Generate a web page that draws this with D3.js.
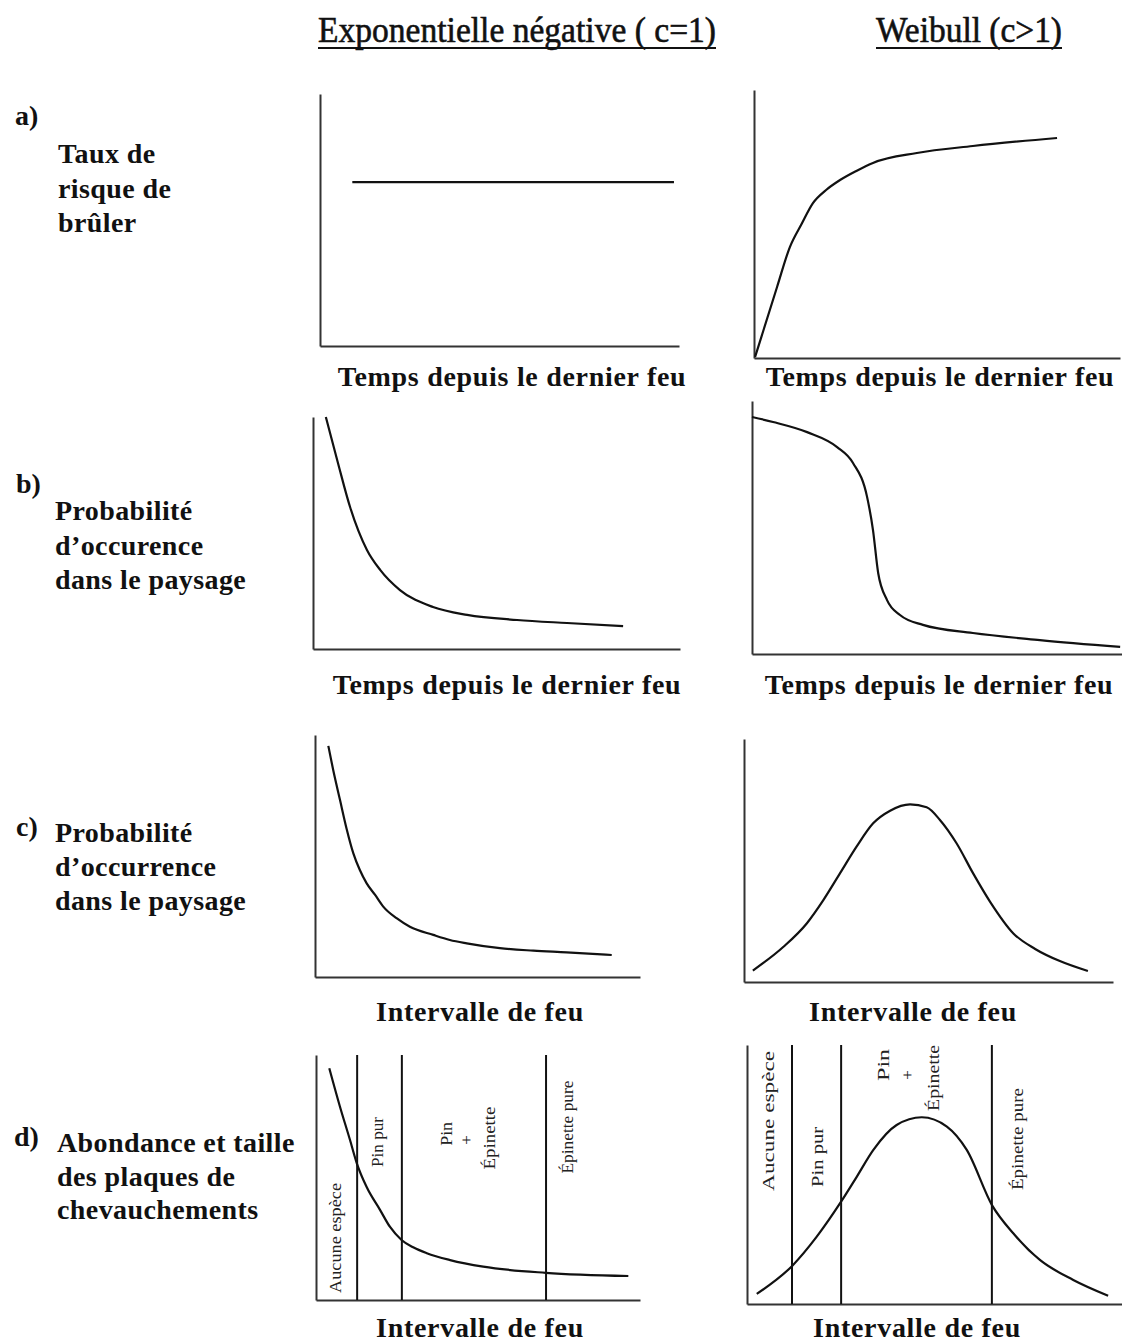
<!DOCTYPE html>
<html>
<head>
<meta charset="utf-8">
<script src="https://cdn.jsdelivr.net/npm/d3@7"></script>
<style>
  html, body { margin: 0; padding: 0; background: #fff; }
  svg { display: block; }
</style>
</head>
<body>
<script>
// ---- Text -------------------------------------------------------------
const colTitles = ["Exponentielle négative ( c=1)", "Weibull (c>1)"];
const rowLetters = ["a)", "b)", "c)", "d)"];
const rowTitles = [
  ["Taux de", "risque de", "brûler"],
  ["Probabilité", "d’occurence", "dans le paysage"],
  ["Probabilité", "d’occurrence", "dans le paysage"],
  ["Abondance et taille", "des plaques de", "chevauchements"]
];
const xTitles = [
  "Temps depuis le dernier feu",
  "Temps depuis le dernier feu",
  "Intervalle de feu",
  "Intervalle de feu"
];
const zoneNames = ["Aucune espèce", "Pin pur", "Pin", "+", "Épinette", "Épinette pure"];

// ---- Curves (x and y in percent of each panel's frame) ----------------
// a) hazard of burning
const hazardExpX = [9, 98.6];
const hazardExpY = [65, 65];
const hazardWeiX = [0.3, 6.3, 9.8, 13.0, 16.1, 19.7, 23.5, 28.1, 32.5, 44.5, 59.8, 82.8];
const hazardWeiY = [0.4, 26.5, 41.4, 50.0, 57.8, 62.7, 66.4, 69.9, 72.8, 76.5, 79.1, 82.1];

// b) probability of occurrence vs time since last fire
const survExpX = [3.5, 6.8, 10.1, 14.7, 18.3, 23.7, 32.7, 42.0, 55.6, 69.2, 84.5];
const survExpY = [100, 80.2, 61.2, 42.7, 34.1, 25.4, 18.1, 14.7, 12.5, 11.2, 9.9];
const survWeiX = [0, 5.7, 14.9, 23.0, 27.3, 31.1, 32.7, 34.1, 36.5, 40.0, 46.2, 59.7, 77.8, 99.5];
const survWeiY = [93.7, 91.7, 87.7, 81.8, 75.5, 62.1, 49.0, 32.0, 21.3, 15.4, 11.5, 8.3, 5.5, 2.8];

// c) fire interval distribution
const intExpX = [4.1, 5.6, 7.7, 9.7, 11.8, 13.8, 15.9, 18.5, 21.0, 25.1, 29.2, 36.4, 41.5, 46.7, 56.9, 67.2, 77.4, 91.3];
const intExpY = [95.5, 85.5, 73.1, 61.4, 51.1, 44.2, 38.7, 33.9, 29.1, 24.3, 20.8, 17.4, 15.3, 13.9, 11.9, 10.9, 10.2, 9.1];
const intWeiX = [2.4, 10.7, 17.0, 21.5, 26.0, 30.5, 35.0, 39.6, 45.0, 49.5, 53.1, 57.6, 62.1, 66.7, 73.0, 78.9, 85.6, 93.2];
const intWeiY = [4.7, 14.5, 24.1, 33.7, 44.7, 55.7, 65.3, 70.5, 73.1, 71.9, 66.7, 57.1, 44.7, 33.0, 20.0, 13.6, 8.6, 4.5];

// d) abundance of overlap patches, split into composition zones
const patchExpX = [4.1, 7.4, 10.5, 12.6, 15.6, 19.8, 22.8, 26.4, 30.0, 34.2, 41.4, 51.6, 70.9, 96.4];
const patchExpY = [94.6, 78.9, 65.3, 55.8, 46.2, 36.7, 29.9, 24.5, 21.5, 19.1, 16.3, 13.6, 11.1, 9.8];
const patchWeiX = [2.6, 12.1, 18.6, 25.0, 29.3, 33.7, 39.9, 46.6, 53.3, 58.6, 65.4, 71.0, 78.1, 87.0, 96.3];
const patchWeiY = [3.9, 14.8, 26.0, 39.3, 49.2, 59.5, 69.1, 72.1, 68.5, 59.5, 38.0, 27.3, 17.0, 9.3, 3.2];
const zoneBoundsExp = [12.7, 26.5, 71.0];
const zoneBoundsWei = [12.0, 25.1, 65.3];

// ---- Layout -----------------------------------------------------------
const W = 1122, H = 1344;
const serif = "'Liberation Serif', 'Times New Roman', serif";
const ink = "#111";

// zone label placement: [x %, y %, drawn length px]
const panels = [
  { row: 0, col: 0, box: [320, 94, 679, 346],   xs: hazardExpX, ys: hazardExpY, lab: [512, 386] },
  { row: 0, col: 1, box: [754, 90, 1120, 358],  xs: hazardWeiX, ys: hazardWeiY, lab: [940, 386] },
  { row: 1, col: 0, box: [313, 417, 680, 649],  xs: survExpX,   ys: survExpY,   lab: [507, 694] },
  { row: 1, col: 1, box: [752, 401, 1122, 654], xs: survWeiX,   ys: survWeiY,   lab: [939, 694] },
  { row: 2, col: 0, box: [315, 735, 640, 977],  xs: intExpX,    ys: intExpY,    lab: [480, 1021] },
  { row: 2, col: 1, box: [744, 739, 1113, 982], xs: intWeiX,    ys: intWeiY,    lab: [913, 1021] },
  { row: 3, col: 0, box: [316, 1055, 640, 1300], xs: patchExpX, ys: patchExpY, lab: [480, 1337],
    bounds: zoneBoundsExp, zoneSize: 17,
    zonePos: [[5.9, 25.3, 110], [19.1, 64.5, 50], [40.4, 67.8, 24], [46.6, 65.3, 0], [53.7, 66.1, 63], [77.5, 70.6, 93]] },
  { row: 3, col: 1, box: [747, 1045, 1122, 1304], xs: patchWeiX, ys: patchWeiY, lab: [917, 1337],
    bounds: zoneBoundsWei, zoneSize: 17,
    zonePos: [[5.6, 70.7, 140], [18.7, 56.8, 60], [36.3, 92.3, 32], [42.9, 88.4, 0], [49.6, 87.3, 66], [72.0, 63.7, 102]] }
];

const titlePos = [[517, 42, 398], [969, 42, 186]];     // centre x, baseline, width
const rowLetterPos = [[15, 125], [16, 493], [16, 836], [14, 1146]];
const rowTitlePos = [[58, [163, 198, 232]], [55, [520, 555, 589]], [55, [842, 876, 910]], [57, [1152, 1186, 1219]]];

const svg = d3.select("body").append("svg")
  .attr("width", W).attr("height", H)
  .style("font-family", serif);

// column headings, underlined
colTitles.forEach((t, i) => {
  const [cx, by, w] = titlePos[i];
  svg.append("text")
    .attr("x", cx).attr("y", by)
    .attr("text-anchor", "middle")
    .attr("font-size", 36)
    .attr("textLength", w).attr("lengthAdjust", "spacingAndGlyphs")
    .attr("fill", ink).attr("stroke", ink).attr("stroke-width", 0.6)
    .text(t);
  svg.append("line")
    .attr("x1", cx - w / 2).attr("x2", cx + w / 2)
    .attr("y1", by + 6).attr("y2", by + 6)
    .attr("stroke", ink).attr("stroke-width", 2);
});

// row letters and row titles
rowLetters.forEach((t, i) => {
  svg.append("text")
    .attr("x", rowLetterPos[i][0]).attr("y", rowLetterPos[i][1])
    .attr("font-size", 28).attr("font-weight", "bold").attr("fill", ink)
    .text(t);
  const [lx, ys] = rowTitlePos[i];
  rowTitles[i].forEach((line, j) => {
    svg.append("text")
      .attr("x", lx).attr("y", ys[j])
      .attr("font-size", 28).attr("font-weight", "bold")
      .attr("letter-spacing", 0.4).attr("fill", ink)
      .text(line);
  });
});

const line = d3.line().curve(d3.curveMonotoneX);

panels.forEach(p => {
  const [L, T, R, B] = p.box;
  const x = d3.scaleLinear().domain([0, 100]).range([L, R]);
  const y = d3.scaleLinear().domain([0, 100]).range([B, T]);
  const g = svg.append("g");

  // axes: bare lines, no ticks
  g.append("g").attr("transform", `translate(0,${B})`)
    .call(d3.axisBottom(x).tickValues([]).tickSizeOuter(0));
  g.append("g").attr("transform", `translate(${L},0)`)
    .call(d3.axisLeft(y).tickValues([]).tickSizeOuter(0));
  g.selectAll(".domain").attr("stroke", "#333").attr("stroke-width", 2);

  // zone boundaries and zone names
  if (p.bounds) {
    g.selectAll(".bound").data(p.bounds).join("line")
      .attr("x1", d => x(d)).attr("x2", d => x(d))
      .attr("y1", y(0)).attr("y2", y(100))
      .attr("stroke", ink).attr("stroke-width", 2);
    zoneNames.forEach((name, k) => {
      const [zx, zy, len] = p.zonePos[k];
      const t = g.append("text")
        .attr("transform", `translate(${x(zx)},${y(zy)}) rotate(-90)`)
        .attr("text-anchor", "middle")
        .attr("dominant-baseline", "central")
        .attr("font-size", p.zoneSize)
        .attr("fill", "#222")
        .text(name);
      if (len) t.attr("textLength", len).attr("lengthAdjust", "spacingAndGlyphs");
    });
  }

  // the curve
  g.append("path")
    .datum(p.xs.map((v, k) => [v, p.ys[k]]))
    .attr("d", line.x(d => x(d[0])).y(d => y(d[1])))
    .attr("fill", "none").attr("stroke", ink).attr("stroke-width", 2.2);

  // x axis title
  svg.append("text")
    .attr("x", p.lab[0]).attr("y", p.lab[1])
    .attr("text-anchor", "middle")
    .attr("font-size", 28).attr("font-weight", "bold")
    .attr("letter-spacing", 0.7).attr("fill", ink)
    .text(xTitles[p.row]);
});
</script>
</body>
</html>
